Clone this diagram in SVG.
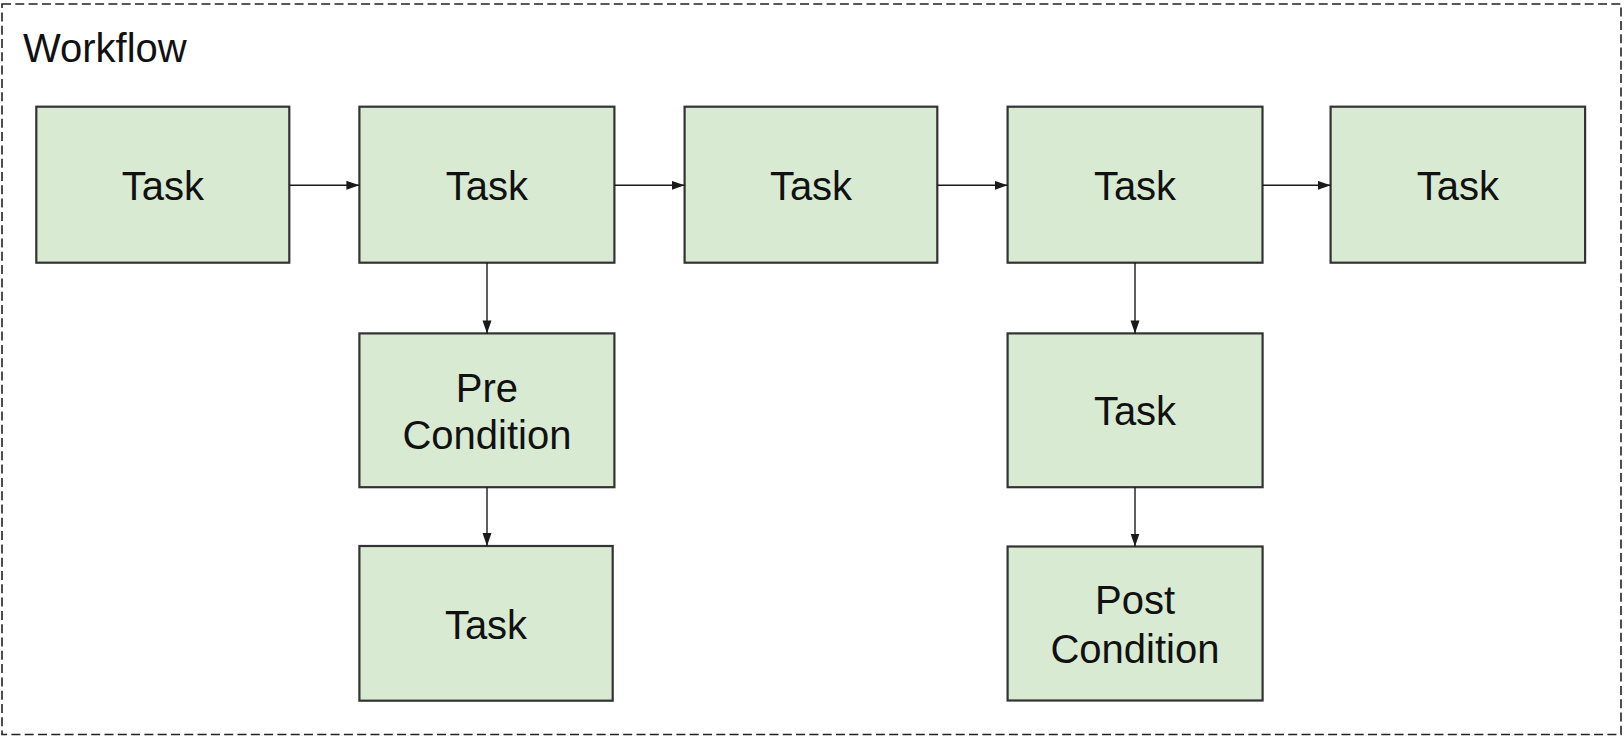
<svg xmlns="http://www.w3.org/2000/svg" width="1624" height="736" viewBox="0 0 1624 736">
<style>
.box{fill:#d9ead3;stroke:#333333;stroke-width:2.2}
.lbl{font-family:"Liberation Sans",Arial,sans-serif;font-size:40px;fill:#111;text-anchor:middle}
.conn{stroke:#1a1a1a;stroke-width:1.4;fill:none}
</style>
<defs>
<marker id="arr" markerUnits="userSpaceOnUse" markerWidth="14" markerHeight="10" refX="13" refY="4.5" orient="auto">
<path d="M0,0 L13,4.5 L0,9 z" fill="#1a1a1a"/>
</marker>
</defs>
<rect x="0" y="0" width="1624" height="736" fill="#ffffff"/>
<g id="workflow">
<rect x="2" y="4" width="1619" height="730.5" fill="none" stroke="#222" stroke-width="1.6" stroke-dasharray="9 4.3"/>
<text x="23" y="61.5" font-family="Liberation Sans, Arial, sans-serif" font-size="40" fill="#111">Workflow</text>
</g>
<g id="task1"><rect class="box" x="36.3" y="106.7" width="253" height="156"/><text class="lbl" x="162.8" y="200">Task</text></g>
<g id="task2"><rect class="box" x="359.4" y="106.7" width="255" height="156"/><text class="lbl" x="486.9" y="200">Task</text></g>
<g id="task3"><rect class="box" x="684.6" y="106.7" width="252.7" height="156"/><text class="lbl" x="811" y="200">Task</text></g>
<g id="task4"><rect class="box" x="1007.6" y="106.7" width="254.9" height="156"/><text class="lbl" x="1135" y="200">Task</text></g>
<g id="task5"><rect class="box" x="1330.6" y="106.7" width="254.5" height="156"/><text class="lbl" x="1457.9" y="200">Task</text></g>
<g id="precondition"><rect class="box" x="359.4" y="333.4" width="255" height="153.8"/><text class="lbl" x="486.9" y="401.7">Pre</text><text class="lbl" x="486.9" y="449.3">Condition</text></g>
<g id="task6"><rect class="box" x="359.4" y="546" width="253.3" height="154.7"/><text class="lbl" x="486" y="638.5">Task</text></g>
<g id="task7"><rect class="box" x="1007.6" y="333.4" width="255" height="153.8"/><text class="lbl" x="1135" y="425">Task</text></g>
<g id="postcondition"><rect class="box" x="1007.6" y="546.5" width="255" height="154"/><text class="lbl" x="1135" y="614.3">Post</text><text class="lbl" x="1135" y="662.7">Condition</text></g>
<g id="connectors">
<line class="conn" x1="289.3" y1="185.3" x2="359.4" y2="185.3" marker-end="url(#arr)"/>
<line class="conn" x1="614.4" y1="185.3" x2="684.6" y2="185.3" marker-end="url(#arr)"/>
<line class="conn" x1="937.3" y1="185.3" x2="1007.6" y2="185.3" marker-end="url(#arr)"/>
<line class="conn" x1="1262.5" y1="185.3" x2="1330.6" y2="185.3" marker-end="url(#arr)"/>
<line class="conn" x1="487" y1="262.7" x2="487" y2="333.4" marker-end="url(#arr)"/>
<line class="conn" x1="487" y1="487.2" x2="487" y2="546" marker-end="url(#arr)"/>
<line class="conn" x1="1135" y1="262.7" x2="1135" y2="333.4" marker-end="url(#arr)"/>
<line class="conn" x1="1135" y1="487.2" x2="1135" y2="546.5" marker-end="url(#arr)"/>
</g>
</svg>
